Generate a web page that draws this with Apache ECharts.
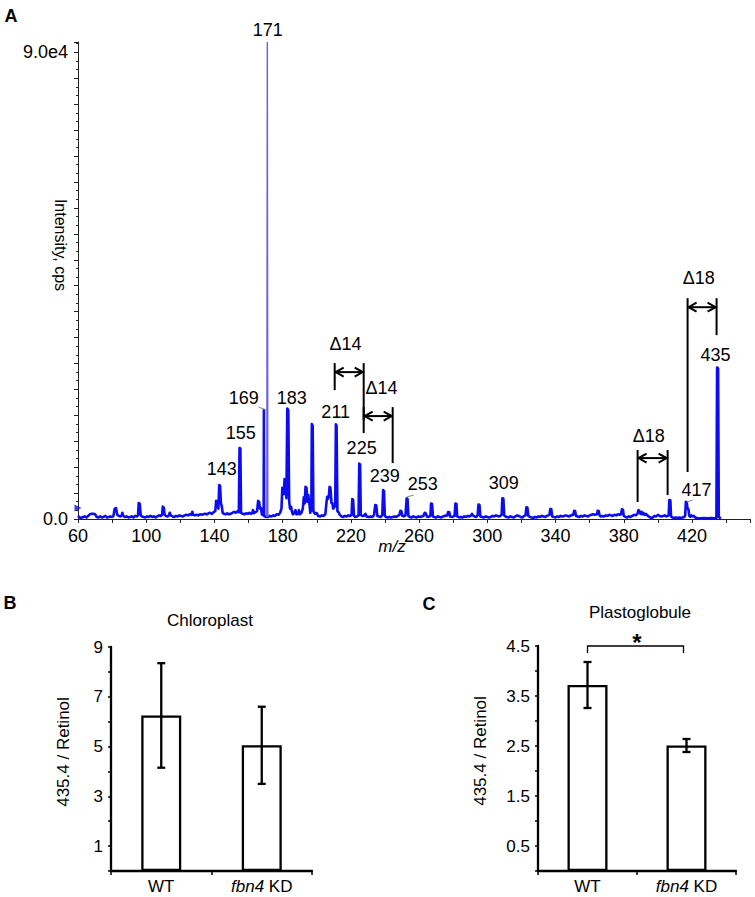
<!DOCTYPE html>
<html><head><meta charset="utf-8">
<script src="https://cdn.jsdelivr.net/npm/echarts@6/dist/echarts.min.js"></script>
<style>html,body{margin:0;padding:0;background:#fff}#c{width:755px;height:897px}</style>
</head><body><div id="c"></div>
<script>
const FONT = '"Liberation Sans", Arial, Helvetica, sans-serif';

// ---------- Panel A: MS/MS spectrum (m/z, intensity cps) ----------
const spectrum = [
[60,600],[61,300],[62,200],[63,400],[64,500],[65,300],[66,600],[67,900],[68,1000],[69,1000],[70,900],[71,400],[72,300],[73,500],[74,300],[75,400],[76,600],[77,300],[78,400],[79,500],[80,400],
[80.8,600],[81.5,2000],[82.3,2100],[83,800],[84,600],[85,500],[85.6,700],[86,1200],[86.5,600],[87.5,400],[88.5,500],[89.5,300],[90.5,400],[91.5,500],[92.5,300],[93.5,600],[94.5,500],
[95.2,700],[95.6,3100],[96.2,2900],[96.8,700],[97.5,500],[98.5,400],[99.5,300],[100.5,500],[101.5,400],[102.5,600],[103.5,400],[104.5,500],[105.5,300],[106.5,500],[107.5,700],[108.5,600],
[109.3,800],[109.7,2400],[110.3,2200],[110.8,800],[111.5,600],[112.5,500],[113.3,700],[113.8,1200],[114.3,700],[115.5,500],[116.5,400],[117.5,600],[118.5,500],[119.5,700],[120.5,600],
[121.5,500],[122.5,700],[123.5,800],[124.5,700],[125.5,900],[126.5,800],[127,1400],[127.6,800],[128.5,700],[129.5,800],[130.5,700],[131.5,900],[132.5,800],[133.5,900],[134.5,1000],
[135.5,900],[136.5,1100],[137.5,1200],[138.5,1000],[139.5,1300],[140.5,1500],[141,3500],[141.7,3400],[142.3,2000],[142.8,6550],[143.3,6400],[143.8,3000],[144.3,2500],[144.8,1200],
[145.5,1000],[146.5,900],[147.5,1100],[148.5,900],[149.5,1000],[150.5,1200],[151.5,1400],[152.5,1200],[153.5,1500],[154.3,1300],[154.7,13700],[155.2,13600],[155.6,1200],[156.5,1000],
[157.5,900],[158.5,1100],[159.5,1000],[160.5,1200],[161.5,1000],[162.2,1200],[162.6,1700],[163.1,1100],[164,1300],[165,1500],[165.6,3500],[166.2,3300],[166.7,2000],[167.3,2100],
[167.8,900],[168.5,700],[168.85,800],[169,21000],[169.15,700],[169.6,500],[170.5,400],[171.5,400],[172.5,600],[173.5,500],[174.5,700],[175.5,600],[176.5,900],[177.5,800],[178.5,1200],
[179.3,2000],[179.8,6000],[180.3,5800],[180.7,4800],[181.1,7700],[181.6,7500],[182.2,4000],[182.7,21300],[183.3,21000],[183.8,3500],[184.3,2000],[184.9,2400],[185.4,1500],[186,900],
[186.8,1100],[187.5,1700],[188.1,900],[189,1000],[189.5,1700],[190,900],[191,1200],[191.8,2000],[192.4,4200],[192.9,3000],[193.4,6200],[194,6000],[194.5,3300],[195,4600],[195.5,3500],
[196.2,1200],[196.8,2000],[197.1,18300],[197.6,18000],[198,1500],[199,1000],[200,1150],[200.8,600],[202,500],[203,700],[204,600],[205,900],[205.7,3200],[206.1,4300],[206.6,3900],
[207.1,4500],[207.5,6200],[208,6000],[208.6,3100],[209.1,3100],[209.6,2000],[210.8,2500],[211.2,18250],[211.6,18000],[212.1,1500],[212.8,1300],[213.5,800],[214.5,500],[215.5,400],
[216.5,600],[217.5,500],[218.5,700],[219.5,600],[220.4,800],[220.8,3850],[221.3,3700],[221.8,600],[222.5,400],[223.5,500],[224.5,700],[224.9,10700],[225.4,10500],[225.8,800],
[226.5,600],[227.5,600],[228.5,1000],[229.2,500],[230.5,400],[231.5,500],[232.5,400],[233.5,700],[234.3,2700],[234.9,2600],[235.5,600],[236.5,500],[237.5,400],[238.4,800],
[238.9,5600],[239.4,5400],[239.9,600],[240.5,400],[241.5,300],[242.5,400],[243.5,300],[244.5,400],[245.5,500],[246.5,400],[247.5,600],[248.5,800],[249,1600],[249.6,1500],[250.2,600],
[251,500],[252,700],[252.7,4000],[253.2,3900],[253.7,600],[254.5,400],[255.5,300],[256.5,500],[257.5,400],[258.5,300],[259.5,500],[260.5,400],[261.5,500],[262.5,600],[263.3,1200],
[263.9,1100],[264.5,500],[265.5,400],[266.6,600],[267,3000],[267.6,2900],[268.1,500],[269,400],[270,300],[271,500],[272,400],[273,300],[274,500],[275,600],[276.5,700],[277,1350],
[277.7,1300],[278.2,500],[279.5,400],[280.8,600],[281.3,3000],[281.9,2900],[282.3,500],[283.5,300],[284.5,400],[285.5,300],[286.5,500],[287.5,400],[288.5,600],[289.5,500],[290.5,700],
[291,1000],[291.5,700],[292.5,500],[293.5,400],[294.3,700],[294.8,2800],[295.4,2700],[295.9,500],[297,400],[298,300],[299,500],[300,400],[301,300],[302,400],[303,600],[304,500],
[305,700],[306,600],[307,500],[308.4,800],[308.8,4000],[309.4,3900],[309.9,700],[310.5,500],[311.5,400],[312.5,300],[313.5,500],[314.5,400],[315.5,300],[316.5,500],[317.5,700],
[318.5,600],[319.5,400],[320.5,300],[321.5,600],[322.4,700],[322.9,2250],[323.5,2200],[324,600],[325,400],[326,300],[327,200],[328,400],[329,300],[330,500],[331,400],[332,600],
[333,500],[334,400],[335,600],[336.4,800],[336.9,1930],[337.5,1900],[338,500],[339,400],[340,300],[341,500],[342,400],[343,600],[344,500],[345,600],[346,700],[347,600],[348,500],
[349,700],[350.4,800],[350.9,1600],[351.5,1500],[352,600],[353,500],[354,400],[355,600],[356,500],[357,700],[358,600],[359,500],[360,700],[361,800],[362,900],[363,800],[364.3,900],
[364.7,1600],[365.3,1550],[365.8,700],[366.5,500],[367.5,600],[368.5,500],[369.5,700],[370.5,600],[371.5,800],[372.5,700],[373.5,600],[374.5,800],[375.5,700],[376.5,900],[377.5,800],
[378.4,900],[378.9,1870],[379.5,1800],[380,600],[381,400],[382,300],[383,500],[384,400],[385,600],[386,800],[387,700],[388,1000],[388.6,1730],[389.2,1500],[389.8,1000],[390.3,1400],
[390.8,900],[391.5,1200],[392.2,800],[393,1000],[393.8,700],[395,400],[396,200],[397,300],[398,600],[399,500],[400,800],[401,600],[402,500],[403,600],[404,700],[405,500],[406.3,700],
[406.7,3660],[407.3,3600],[407.7,500],[408.5,300],[409.5,200],[410.5,300],[411.5,200],[412.5,300],[413.5,200],[414.5,300],[415.5,400],[416,700],[416.4,3340],[416.9,3200],[417.4,2000],
[417.9,1900],[418.4,600],[419,400],[419.6,700],[420.2,500],[421,600],[421.8,300],[423,200],[425,150],[427,200],[429,150],[431,200],[433,150],[434.3,200],[434.7,29230],[435.3,29000],
[435.7,400],[436.5,200],[437,100]
];
// base peak at m/z 171 (drawn as its own thin trace)
const basePeakMz  = [170.7, 171, 171.3];
const basePeakInt = [400, 92000, 400];

// peak annotations (label anchor in data units)
const peakLabelText = ['143','155','169','171','183','211','225','239','253','309','417','435'];
const peakLabelMz   = [144.3,155.4,157.2,171.2,185.3,211.1,226.3,239.8,262.1,309.6,422.7,433.8];
const peakLabelInt  = [9635,16570,23320,94400,23320,20620,13680,8290,6740,6940,5590,31600];

// leader lines (from, to)
const leaderFromMz  = [165.9, 252.7, 417.4];
const leaderFromInt = [21580, 4240, 3280];
const leaderToMz    = [170.6, 256.8, 420.3];
const leaderToInt   = [21000, 4620, 3660];

// mass-difference brackets
const deltaText     = ['Δ14','Δ14','Δ18','Δ18'];
const deltaTextMz   = [216.9, 238.0, 394.6, 423.9];
const deltaTextInt  = [33720, 25240, 15990, 46440];
const brLeftMz      = [210.5, 227.5, 388.1, 417.4];
const brRightMz     = [227.5, 244.5, 405.7, 434.4];
const brTopInt      = [30060, 21580, 13300, 42590];
const brLeftBotInt  = [24860, 19000, 3280, 9060];
const brRightBotInt = [16570, 10790, 4620, 35460];
const brArrowInt    = [28330, 19850, 11750, 40850];

// ---------- Panels B, C ----------
const groups     = ['WT', 'fbn4 KD'];
const chloroMean = [6.25, 5.05];
const chloroErr  = [2.1, 1.55];
const plastoMean = [3.72, 2.51];
const plastoErr  = [0.46, 0.13];

const chart = echarts.init(document.getElementById('c'), null, {renderer: 'svg'});

function txt(x, y, text, size, opts, rot) {
  opts = opts || {};
  return {
    type: 'text', x: x, y: y, rotation: rot || 0,
    style: {text: text, fontSize: size, fontFamily: FONT,
      fontWeight: opts.weight || 'normal', fontStyle: opts.style || 'normal',
      fill: '#000', textAlign: 'center', textVerticalAlign: 'middle', align: 'center', verticalAlign: 'middle'}
  };
}

const catLabel = {
  fontSize: 17, fontFamily: FONT, color: '#000', margin: 7, interval: 0,
  formatter: v => v === 'fbn4 KD' ? '{i|fbn4}{n| KD}' : '{n|' + v + '}',
  rich: {i: {fontStyle: 'italic', fontSize: 17, fontFamily: FONT, color: '#000'},
         n: {fontSize: 17, fontFamily: FONT, color: '#000'}}
};
const blackAxis = {lineStyle: {color: '#000', width: 2.3}};

function errRender(meanArr, errArr) {
  return function (params, api) {
    const i = params.dataIndex;
    const hi = api.coord([i, meanArr[i] + errArr[i]]);
    const lo = api.coord([i, meanArr[i] - errArr[i]]);
    const x = hi[0], w = 4;
    const st = {stroke: '#000', lineWidth: 2.3, fill: null};
    return {type: 'group', children: [
      {type: 'line', shape: {x1: x, y1: hi[1], x2: x, y2: lo[1]}, style: st},
      {type: 'line', shape: {x1: x - w, y1: hi[1], x2: x + w, y2: hi[1]}, style: st},
      {type: 'line', shape: {x1: x - w, y1: lo[1], x2: x + w, y2: lo[1]}, style: st}
    ]};
  };
}

const option = {
  animation: false,
  backgroundColor: '#fff',
  textStyle: {fontFamily: FONT},
  grid: [
    {left: 78, top: 42, width: 672, height: 477},
    {left: 111, top: 647, width: 201, height: 224},
    {left: 538, top: 646, width: 198, height: 225}
  ],
  xAxis: [
    {type: 'value', gridIndex: 0, min: 60, max: 454, interval: 20,
     axisLine: {lineStyle: {color: '#222', width: 1}},
     axisTick: {show: true, length: 4, lineStyle: {color: '#222'}},
     splitLine: {show: false},
     axisLabel: {fontSize: 18, fontFamily: FONT, color: '#000', margin: 8,
       formatter: v => ((v - 60) % 40 === 0 && v <= 420) ? String(v) : ''}},
    {type: 'category', gridIndex: 1, data: groups, axisLine: blackAxis,
     axisTick: {show: true, length: 4, lineStyle: {color: '#000', width: 1.5}}, axisLabel: catLabel},
    {type: 'category', gridIndex: 2, data: groups, axisLine: blackAxis,
     axisTick: {show: true, length: 4, lineStyle: {color: '#000', width: 1.5}}, axisLabel: catLabel}
  ],
  yAxis: [
    {type: 'value', gridIndex: 0, min: 0, max: 92000, interval: 5000,
     axisLine: {show: true, lineStyle: {color: '#222', width: 1}},
     axisTick: {show: true, length: 4, lineStyle: {color: '#222'}},
     minorTick: {show: true, splitNumber: 3, length: 2, lineStyle: {color: '#222'}},
     splitLine: {show: false},
     axisLabel: {fontSize: 18, fontFamily: FONT, color: '#000', margin: 10,
       formatter: v => v === 0 ? '0.0' : (v === 90000 ? '9.0e4' : '')}},
    {type: 'value', gridIndex: 1, min: 0, max: 9, interval: 1,
     axisLine: Object.assign({show: true}, blackAxis),
     axisTick: {show: true, length: 3, lineStyle: {color: '#000', width: 1.5}},
     splitLine: {show: false},
     axisLabel: {fontSize: 17, fontFamily: FONT, color: '#000', margin: 8,
       formatter: v => (v % 2 === 1) ? String(v) : ''}},
    {type: 'value', gridIndex: 2, min: 0, max: 4.5, interval: 0.5,
     axisLine: Object.assign({show: true}, blackAxis),
     axisTick: {show: true, length: 3, lineStyle: {color: '#000', width: 1.5}},
     splitLine: {show: false},
     axisLabel: {fontSize: 17, fontFamily: FONT, color: '#000', margin: 8,
       formatter: v => (Math.round(v * 2) % 2 === 1) ? v.toFixed(1) : ''}}
  ],
  series: [
    {type: 'line', xAxisIndex: 0, yAxisIndex: 0, data: spectrum, symbol: 'none',
     lineStyle: {color: '#0c0cf2', width: 2.6, join: 'round'}, z: 3},
    {type: 'line', xAxisIndex: 0, yAxisIndex: 0,
     data: basePeakMz.map((m, i) => [m, basePeakInt[i]]), symbol: 'none',
     lineStyle: {color: '#6c5cf0', width: 1.4}, z: 4, clip: false},
    {type: 'scatter', xAxisIndex: 0, yAxisIndex: 0, data: [[60, 2100]], symbol: 'triangle',
     symbolRotate: -90, symbolSize: 7, itemStyle: {color: '#0c0cf2'}, z: 5, clip: false},
    // peak labels
    {type: 'custom', xAxisIndex: 0, yAxisIndex: 0, clip: false, z: 6,
     data: peakLabelMz.map((m, i) => [m, peakLabelInt[i]]),
     renderItem: (params, api) => {
       const p = api.coord([api.value(0), api.value(1)]);
       return txt(p[0], p[1], peakLabelText[params.dataIndex], 18);
     }},
    // leader lines
    {type: 'custom', xAxisIndex: 0, yAxisIndex: 0, clip: false, z: 6,
     data: leaderFromMz.map((m, i) => [m, leaderFromInt[i], leaderToMz[i], leaderToInt[i]]),
     renderItem: (params, api) => {
       const a = api.coord([api.value(0), api.value(1)]);
       const b = api.coord([api.value(2), api.value(3)]);
       return {type: 'line', shape: {x1: a[0], y1: a[1], x2: b[0], y2: b[1]}, style: {stroke: '#888', lineWidth: 1}};
     }},
    // delta brackets
    {type: 'custom', xAxisIndex: 0, yAxisIndex: 0, clip: false, z: 6,
     data: brLeftMz.map((m, i) => [m, brTopInt[i]]),
     renderItem: (params, api) => {
       const i = params.dataIndex;
       const lt = api.coord([brLeftMz[i], brTopInt[i]]);
       const lb = api.coord([brLeftMz[i], brLeftBotInt[i]]);
       const rt = api.coord([brRightMz[i], brTopInt[i]]);
       const rb = api.coord([brRightMz[i], brRightBotInt[i]]);
       const ay = api.coord([brLeftMz[i], brArrowInt[i]])[1];
       const tp = api.coord([deltaTextMz[i], deltaTextInt[i]]);
       const st = {stroke: '#000', lineWidth: 2, fill: null};
       const L = 8, H = 4.5;
       const xl = lt[0] + 1, xr = rt[0] - 1;
       return {type: 'group', children: [
         {type: 'line', shape: {x1: lt[0], y1: lt[1], x2: lb[0], y2: lb[1]}, style: st},
         {type: 'line', shape: {x1: rt[0], y1: rt[1], x2: rb[0], y2: rb[1]}, style: st},
         {type: 'line', shape: {x1: xl, y1: ay, x2: xr, y2: ay}, style: st},
         {type: 'polyline', shape: {points: [[xl + L, ay - H], [xl, ay], [xl + L, ay + H]]}, style: st},
         {type: 'polyline', shape: {points: [[xr - L, ay - H], [xr, ay], [xr - L, ay + H]]}, style: st},
         txt(tp[0], tp[1], deltaText[i], 18)
       ]};
     }},
    // Panel B
    {type: 'bar', xAxisIndex: 1, yAxisIndex: 1, data: chloroMean, barWidth: 40,
     itemStyle: {color: '#fff', borderColor: '#000', borderWidth: 2.3}},
    {type: 'custom', xAxisIndex: 1, yAxisIndex: 1, data: chloroMean.map((m, i) => [i, m]),
     renderItem: errRender(chloroMean, chloroErr), z: 5},
    // Panel C
    {type: 'bar', xAxisIndex: 2, yAxisIndex: 2, data: plastoMean, barWidth: 40,
     itemStyle: {color: '#fff', borderColor: '#000', borderWidth: 2.3}},
    {type: 'custom', xAxisIndex: 2, yAxisIndex: 2, data: plastoMean.map((m, i) => [i, m]),
     renderItem: errRender(plastoMean, plastoErr), z: 5},
    // significance bracket
    {type: 'custom', xAxisIndex: 2, yAxisIndex: 2, clip: false, data: [[0, 4.5]], z: 5,
     renderItem: (params, api) => {
       const a = api.coord([0, 4.5]);
       const b = api.coord([1, 4.5]);
       const st = {stroke: '#000', lineWidth: 1.3, fill: null};
       return {type: 'group', children: [
         {type: 'polyline', shape: {points: [[a[0], a[1] + 7], [a[0], a[1]], [b[0] - 3, b[1]], [b[0] - 3, b[1] + 7]]}, style: st},
         txt((a[0] + b[0]) / 2, a[1] - 4, '*', 24, {weight: 'bold'})
       ]};
     }}
  ],
  graphic: [
    txt(11, 16, 'A', 18, {weight: 'bold'}),
    txt(10, 603, 'B', 18, {weight: 'bold'}),
    txt(429, 604, 'C', 18, {weight: 'bold'}),
    txt(60, 245, 'Intensity, cps', 16, null, -Math.PI / 2),
    txt(392, 546, 'm/z', 17, {style: 'italic'}),
    txt(210, 620, 'Chloroplast', 17),
    txt(640, 612, 'Plastoglobule', 17),
    txt(63, 752, '435.4 / Retinol', 17, null, Math.PI / 2),
    txt(480, 751, '435.4 / Retinol', 17, null, Math.PI / 2)
  ]
};
chart.setOption(option);
</script>
</body></html>
